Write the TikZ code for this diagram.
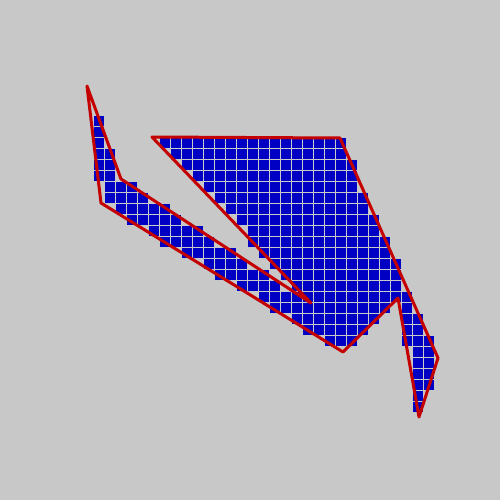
\documentclass[tikz,border=0pt]{standalone}
\definecolor{bg}{RGB}{200,200,200}
\definecolor{cellblue}{RGB}{0,0,196}
\definecolor{edgered}{RGB}{196,0,0}
\newcount\crosscnt
\begin{document}
\begin{tikzpicture}[x=1pt,y=-1pt,
  cell/.style={fill=cellblue},
  outline/.style={draw=edgered,line width=3pt,line join=round}]
\fill[bg] (0,0) rectangle (500,500);
\useasboundingbox (0,0) rectangle (500,500);
\foreach \i in {6,...,40}{
 \foreach \j in {6,...,38}{
  \pgfmathsetmacro\cx{11+11*\i}
  \pgfmathsetmacro\cy{11+11*\j}
  \global\crosscnt=0
  \foreach \xa/\ya/\xb/\yb in {87/86/121/179,121/179/311/303,311/303/152/137,152/137/340/138,340/138/438/358,438/358/419/417,419/417/398/298,398/298/343/352,343/352/101/203,101/203/87/86}{
   \pgfmathtruncatemacro\hit{(((\ya>\cy)!=(\yb>\cy)) && (\cx < \xa+max(0,min(1,(\cy-\ya)/(\yb-\ya)))*(\xb-\xa))) ? 1 : 0}
   \global\advance\crosscnt by \hit\relax
  }
  \ifodd\crosscnt \fill[cell] ({6+11*\i},{6+11*\j}) rectangle ++(10,10); \fi
 }
}
\coordinate (p1) at (87,86);
\coordinate (p2) at (121,179);
\coordinate (p3) at (311,303);
\coordinate (p4) at (152,137);
\coordinate (p5) at (340,138);
\coordinate (p6) at (438,358);
\coordinate (p7) at (419,417);
\coordinate (p8) at (398,298);
\coordinate (p9) at (343,352);
\coordinate (p10) at (101,203);
\draw[outline] (p1)--(p2)--(p3)--(p4)--(p5)--(p6)--(p7)--(p8)--(p9)--(p10)--cycle;
\end{tikzpicture}
\end{document}
